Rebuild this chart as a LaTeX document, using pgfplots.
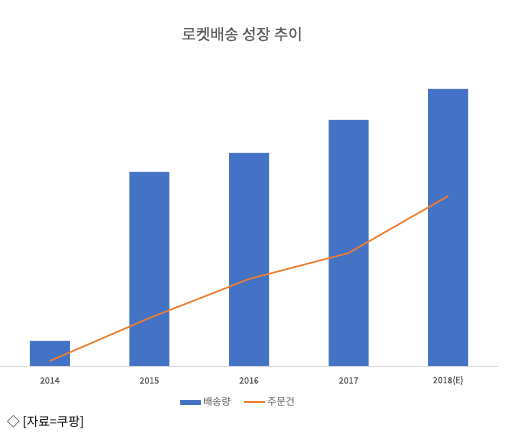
\documentclass[border=0pt]{standalone}
\usepackage{fontspec}
\setmainfont{Noto Sans CJK KR}
\newfontfamily\tickfont[FakeBold=0.5]{Noto Sans CJK KR}
\newfontfamily\titlefont[FakeBold=0.3]{Noto Sans CJK KR}
\usepackage{pgfplots}
\pgfplotsset{compat=1.18}
\definecolor{barblue}{HTML}{4472C4}
\definecolor{lineorange}{HTML}{ED7D31}
\definecolor{axisgray}{HTML}{D9D9D9}
\definecolor{textgray}{HTML}{595959}
\begin{document}
\begin{tikzpicture}[x=1bp,y=1bp]
\path[use as bounding box] (0,0) rectangle (510,433);
\begin{axis}[
  at={(0bp,67bp)}, anchor=south west,
  scale only axis, width=498bp, height=306bp,
  xmin=-0.5, xmax=4.5, ymin=0, ymax=306,
  axis y line=none, axis x line*=bottom,
  x axis line style={draw=axisgray, line width=0.8bp, -},
  xtick={0,1,2,3,4}, xticklabels={2014,2015,2016,2017,2018(E)},
  major tick length=0pt,
  xticklabel style={font=\tickfont\fontsize{8.8}{10}\selectfont, text=textgray, anchor=center, yshift=-14.5bp},
  title={로켓배송 성장 추이},
  title style={at={(axis description cs:0.486,1.065)}, anchor=center, font=\titlefont\fontsize{15.5}{18}\selectfont, text=textgray},
  legend style={at={(axis description cs:0.479,-0.118)}, anchor=center, draw=none, fill=none, font=\fontsize{10}{12}\selectfont, text=textgray, /tikz/every even column/.append style={column sep=10bp}},
  legend columns=2,
  clip=false,
]
\addplot[ybar, bar width=40bp, fill=barblue, draw=none,
  legend image code/.code={\fill[barblue] (0bp,-2.5bp) rectangle (21bp,2.5bp);}]
  coordinates {(0,25) (1,194) (2,213) (3,246) (4,277)};
\addlegendentry{배송량}
\addplot[sharp plot, lineorange, line width=1.6bp, no marks,
  legend image code/.code={\draw[lineorange, line width=1.6bp] (0bp,0bp) -- (21bp,0bp);}]
  coordinates {(0,5) (1,48) (2,87) (3,113) (4,170)};
\addlegendentry{주문건}
\end{axis}
\node[anchor=west, font=\fontsize{12.6}{14}\selectfont, text=black, inner sep=0pt] at (7bp,11bp) {◇ [자료=쿠팡]};
\end{tikzpicture}
\end{document}
